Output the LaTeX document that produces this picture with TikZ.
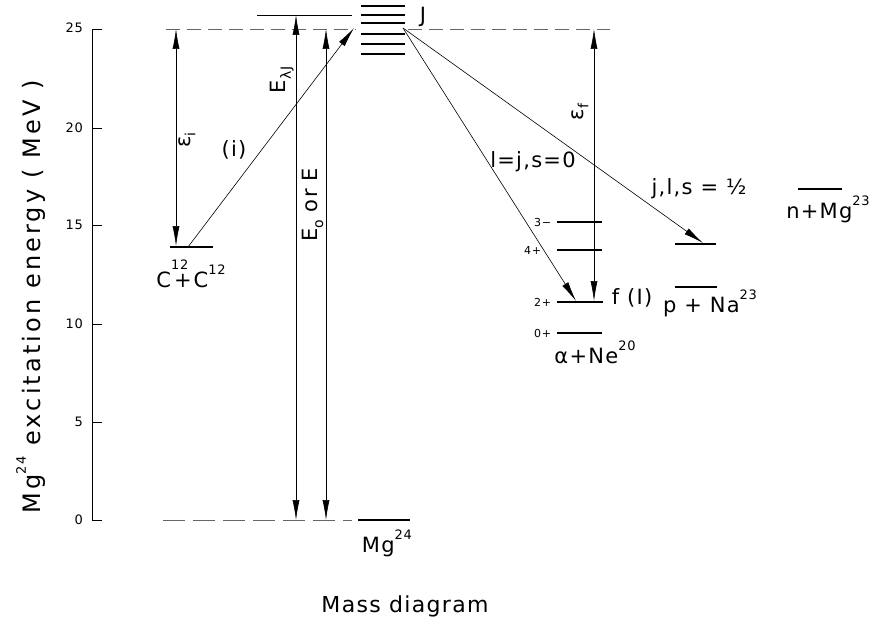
\documentclass[tikz,border=0pt]{standalone}
\usepackage{fontspec}
\setmainfont{DejaVu Sans}[LetterSpace=6]
\usetikzlibrary{arrows.meta}
\newcommand\sups[1]{\raisebox{1.15ex}{\fontsize{13}{13}\selectfont #1}}
\newcommand\hsups[1]{\raisebox{1.6ex}{\fontsize{13}{13}\selectfont #1}}
\newcommand\subs[1]{\raisebox{-0.45ex}{\fontsize{14}{14}\selectfont #1}}
\begin{document}
\begin{tikzpicture}[x=1pt,y=-1pt,
  every node/.style={inner sep=0pt, outer sep=0pt},
  big/.style={font=\fontsize{21}{21}\selectfont},
  ticklbl/.style={font=\fontsize{13}{13}\selectfont, anchor=east},
  spinlbl/.style={font=\fontsize{11}{11}\selectfont, anchor=east},
  thinline/.style={line width=0.6pt},
  levelline/.style={line width=1.6pt},
  dashtop/.style={line width=0.5pt, dash pattern=on 14pt off 7pt, black!60},
  dashbot/.style={line width=0.5pt, dash pattern=on 22pt off 8pt, black!60},
  arr/.style={thinline, -{Latex[length=20pt,width=7pt]}},
  darr/.style={thinline, {Latex[length=20pt,width=7pt]}-{Latex[length=20pt,width=7pt]}},
]
\useasboundingbox (0,0) rectangle (883,623);

% axis
\draw[thinline] (102,29) -- (92,29) -- (92,520) -- (102,520);
\foreach \yy in {128,225,324,422} \draw[thinline] (92,\yy) -- (102,\yy);
\node[ticklbl] (t25) at (83,28) {25};
\node[ticklbl] (t20) at (83,128) {20};
\node[ticklbl] (t15) at (83,225) {15};
\node[ticklbl] (t10) at (83,324) {10};
\node[ticklbl] (t5) at (83,422) {5};
\node[ticklbl] (t0) at (83,520) {0};
\node[font=\fontsize{24}{24}\selectfont\addfontfeatures{LetterSpace=13}, rotate=90] (ylab) at (31,297)
  {Mg\sups{24} excitation energy ( MeV )};

% reference lines
\draw[dashtop] (166,29) -- (356,29);
\draw[dashtop] (408,29) -- (610,29);
\draw[dashbot] (163,520) -- (352,520);
\draw[thinline] (257,15) -- (352,15);

% J levels
\foreach \yy in {6,15,23,34,44,54} \draw[levelline] (361,\yy) -- (405,\yy);
\node[big] (J) at (423,17) {J};
\coordinate (Jin) at (354,28);
\coordinate (Jout) at (403,28);

% C12 + C12
\draw[levelline] (170,247) -- (213,247);
\coordinate (Cst) at (188,247);
\node[big] (CC) at (191,274) {C\rlap{\hsups{12}}\kern3pt+\kern2pt C\sups{12}};
\coordinate (ei1) at (176,29);
\coordinate (ei2) at (176,246);
\draw[darr] (ei1) -- (ei2);
\node[big, rotate=90] (eil) at (187,140) {ε\subs{i}};
\draw[arr] (Cst) -- (Jin);
\node[big] (il) at (234,150) {(i)};

% E arrows
\coordinate (El1) at (296,15);
\coordinate (El2) at (296,520);
\draw[darr] (El1) -- (El2);
\node[big, rotate=90] (Ell) at (282,80) {E\subs{λJ}};
\coordinate (Eo1) at (326,29);
\coordinate (Eo2) at (326,520);
\draw[darr] (Eo1) -- (Eo2);
\node[big, rotate=90] (Eol) at (313,205) {E\subs{o} or E};

% Mg24
\draw[levelline] (358,520) -- (410,520);
\node[big] (Mg) at (387,543) {Mg\sups{24}};
\node[font=\fontsize{22}{22}\selectfont] (md) at (405,606) {Mass diagram};

% alpha + Ne20
\draw[levelline] (557,222) -- (602,222);
\draw[levelline] (557,250) -- (602,250);
\draw[levelline] (557,302) -- (603,302);
\draw[levelline] (557,333) -- (602,333);
\node[spinlbl] (s3) at (551,222) {3−};
\node[spinlbl] (s4) at (541,250) {4+};
\node[spinlbl] (s2) at (551,302) {2+};
\node[spinlbl] (s0) at (551,333) {0+};
\node[big] (aNe) at (595,352) {α+Ne\sups{20}};
\node[big] (fI) at (632,298) {f (I)};
\coordinate (f2) at (576,301);
\draw[arr] (Jout) -- (f2);
\node[big] (ljs) at (533,162) {l=j,s=0};
\coordinate (ef1) at (594,29);
\coordinate (ef2) at (594,301);
\draw[darr] (ef1) -- (ef2);
\node[big, rotate=90] (efl) at (580,112) {ε\subs{f}};

% p + Na23
\draw[levelline] (675,244) -- (716,244);
\draw[levelline] (675,287) -- (717,287);
\coordinate (pNa) at (703,243);
\draw[arr] (Jout) -- (pNa);
\node[big] (jls) at (699,189) {j,l,s = ½};
\node[big] (pNal) at (710,303) {p + Na\sups{23}};

% n + Mg23
\draw[levelline] (798,189) -- (842,189);
\node[big] (nMg) at (828,209) {n+Mg\sups{23}};
\end{tikzpicture}
\end{document}
